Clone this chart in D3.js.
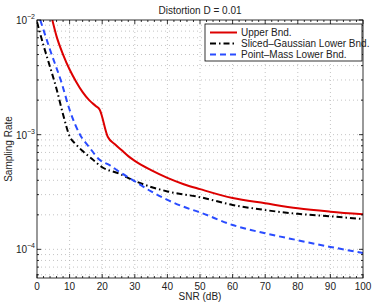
<!DOCTYPE html>
<html>
<head>
<meta charset="utf-8">
<script src="https://cdn.jsdelivr.net/npm/d3@7"></script>
<style>
body { margin: 0; background: #fff; }
svg { display: block; font-family: "Liberation Sans", Arial, sans-serif; }
</style>
</head>
<body>
<svg id="chart" width="374" height="304"></svg>
<script>
// values
const upperSnr = [4.7, 6, 8, 10, 12, 14, 16, 18, 19.2, 21.7, 24, 26, 28, 30, 35, 40, 45, 50, 60, 70, 80, 90, 100];
const upperRate = [1e-2, 7.2e-3, 5.0e-3, 3.7e-3, 2.9e-3, 2.35e-3, 2.0e-3, 1.78e-3, 1.66e-3, 9.6e-4, 8.2e-4, 7.3e-4, 6.5e-4, 5.9e-4, 4.9e-4, 4.2e-4, 3.7e-4, 3.35e-4, 2.8e-4, 2.52e-4, 2.28e-4, 2.13e-4, 2.02e-4];

const slicedSnr = [0, 2, 4, 6, 8, 10, 12, 14, 17, 20, 25, 30, 35, 40, 50, 60, 70, 80, 90, 100];
const slicedRate = [9.6e-3, 6.0e-3, 3.9e-3, 2.5e-3, 1.5e-3, 9.7e-4, 8.2e-4, 7.2e-4, 6.1e-4, 5.2e-4, 4.6e-4, 3.95e-4, 3.5e-4, 3.2e-4, 2.85e-4, 2.44e-4, 2.2e-4, 2.04e-4, 1.94e-4, 1.84e-4];

const pointSnr = [1, 4, 7.6, 10, 13.2, 16, 19.3, 22.4, 25, 29.5, 35, 40, 45, 50, 60, 70, 80, 90, 100];
const pointRate = [1e-2, 5.5e-3, 2.8e-3, 1.65e-3, 1e-3, 7.8e-4, 6.0e-4, 5.4e-4, 4.8e-4, 4.0e-4, 3.2e-4, 2.7e-4, 2.35e-4, 2.1e-4, 1.63e-4, 1.38e-4, 1.2e-4, 1.05e-4, 9.3e-5];

const xTicks = [0, 10, 20, 30, 40, 50, 60, 70, 80, 90, 100];
const yDecades = [-2, -3, -4];

const series = [
	{ name: 'Upper Bnd.', x: upperSnr, y: upperRate, color: '#dd0000', dash: null },
	{ name: 'Sliced\u2013Gaussian Lower Bnd.', x: slicedSnr, y: slicedRate, color: '#000', dash: '6,3,1.5,3' },
	{ name: 'Point\u2013Mass Lower Bnd.', x: pointSnr, y: pointRate, color: '#2a4cff', dash: '6,4' }
];

const svg = d3.select('#chart');
const pLeft = 37, pRight = 363, pTop = 20, pBottom = 278;

const x = d3.scaleLinear().domain([0, 100]).range([pLeft, pRight]);
const y = d3.scaleLog().domain([Math.pow(10, -4.25), 1e-2]).range([pBottom, pTop]);

// grid
const grid = svg.append('g').attr('stroke', '#aaa').attr('stroke-width', 0.7).attr('stroke-dasharray', '1,3');
xTicks.slice(1, -1).forEach(t => {
	grid.append('line').attr('x1', x(t)).attr('x2', x(t)).attr('y1', pTop).attr('y2', pBottom);
});
const yGrid = [];
for (let e = -5; e <= -2; e++) {
	for (let m = 1; m <= 9; m++) {
		const v = m * Math.pow(10, e);
		if (v >= y.domain()[0] && v < 1e-2) yGrid.push(v);
	}
}
yGrid.forEach(v => {
	grid.append('line').attr('x1', pLeft).attr('x2', pRight).attr('y1', y(v)).attr('y2', y(v));
});

// curves
svg.append('clipPath').attr('id', 'clip').append('rect')
	.attr('x', pLeft).attr('y', pTop).attr('width', pRight - pLeft).attr('height', pBottom - pTop);
const line = d3.line().x(d => x(d[0])).y(d => y(d[1])).curve(d3.curveMonotoneX);
series.forEach(s => {
	svg.append('path')
		.attr('clip-path', 'url(#clip)')
		.attr('d', line(s.x.map((v, i) => [v, s.y[i]])))
		.attr('fill', 'none')
		.attr('stroke', s.color)
		.attr('stroke-width', 2)
		.attr('stroke-dasharray', s.dash);
});

// axes box with inward ticks
const axisG = svg.append('g').attr('stroke', '#000').attr('stroke-width', 0.8);
axisG.append('rect').attr('x', pLeft).attr('y', pTop).attr('width', pRight - pLeft).attr('height', pBottom - pTop).attr('fill', 'none');
d3.range(0, 101, 2).forEach(t => {
	const len = t % 10 === 0 ? 4 : 2;
	axisG.append('line').attr('x1', x(t)).attr('x2', x(t)).attr('y1', pBottom).attr('y2', pBottom - len);
	axisG.append('line').attr('x1', x(t)).attr('x2', x(t)).attr('y1', pTop).attr('y2', pTop + len);
});
yGrid.concat([1e-2]).forEach(v => {
	const major = Math.abs(Math.log10(v) - Math.round(Math.log10(v))) < 1e-9;
	const len = major ? 4 : 2;
	axisG.append('line').attr('x1', pLeft).attr('x2', pLeft + len).attr('y1', y(v)).attr('y2', y(v));
	axisG.append('line').attr('x1', pRight).attr('x2', pRight - len).attr('y1', y(v)).attr('y2', y(v));
});

// tick labels
xTicks.forEach(t => {
	svg.append('text').attr('x', x(t)).attr('y', 290).attr('text-anchor', 'middle')
		.attr('font-size', 10).attr('fill', '#222').text(t);
});
yDecades.forEach(e => {
	svg.append('text').attr('x', 27).attr('y', y(Math.pow(10, e)) + 4)
		.attr('text-anchor', 'end').attr('font-size', 10).attr('fill', '#222').text('10');
	svg.append('text').attr('x', 27).attr('y', y(Math.pow(10, e)) - 1)
		.attr('font-size', 7).attr('fill', '#222').text('\u2212' + Math.abs(e));
});

// titles
svg.append('text').attr('x', 200).attr('y', 14).attr('text-anchor', 'middle').attr('font-size', 10).attr('fill', '#222').text('Distortion D = 0.01');
svg.append('text').attr('x', 200).attr('y', 300).attr('text-anchor', 'middle').attr('font-size', 10).attr('fill', '#222').text('SNR (dB)');
svg.append('text').attr('transform', 'translate(12,149) rotate(-90)').attr('text-anchor', 'middle').attr('font-size', 10).attr('fill', '#222').text('Sampling Rate');

// legend
const lg = svg.append('g');
lg.append('rect').attr('x', 205).attr('y', 24).attr('width', 157).attr('height', 37)
	.attr('fill', '#fff').attr('stroke', '#000').attr('stroke-width', 0.8);
series.forEach((s, i) => {
	const ly = 32.5 + i * 11;
	lg.append('line').attr('x1', 210).attr('x2', 237).attr('y1', ly).attr('y2', ly)
		.attr('stroke', s.color).attr('stroke-width', 2).attr('stroke-dasharray', s.dash);
	lg.append('text').attr('x', 241).attr('y', ly + 3.5).attr('font-size', 10).attr('fill', '#222').text(s.name);
});
</script>
</body>
</html>
